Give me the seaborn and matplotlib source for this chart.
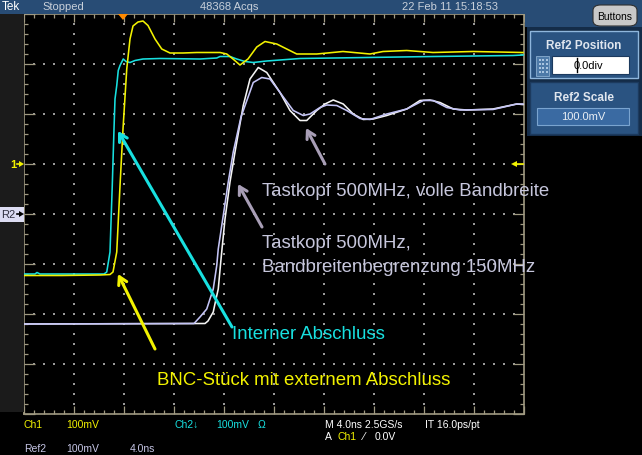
import numpy as np
import pandas as pd
import matplotlib
matplotlib.use("Agg")
import matplotlib.pyplot as plt
from matplotlib.patches import Rectangle, FancyBboxPatch, Polygon
from matplotlib.ticker import MultipleLocator
import seaborn as sns

# ---------------- data (time in ns, screen voltage in mV, 100 mV/div) -------------
t_ch1 = [-8.0, -5.0, -1.92, -1.12, -0.88, -0.58, -0.32, -0.08, 0.22, 0.48, 0.72, 1.12,
         1.52, 1.92, 2.48, 3.02, 3.68, 4.72, 5.82, 7.68, 8.22, 8.72, 9.28, 9.92, 10.62,
         11.28, 12.22, 13.02, 13.82, 15.42, 17.52, 19.68, 20.72, 22.62, 24.72, 27.92, 31.92]
v_ch1 = [-123, -123, -122, -121, -116, -76, 56, 170, 290, 350, 376, 384,
         386, 377, 350, 330, 322, 322, 323, 323, 320, 310, 298, 310, 334,
         345, 340, 330, 320, 320, 325, 320, 325, 327, 323, 325, 323]

t_ch2 = [-8.0, -7.12, -6.96, -6.72, -1.6, -1.38, -1.12, -0.94, -0.8, -0.72, -0.58, -0.46,
         -0.32, -0.06, 0.16, 0.48, 0.88, 1.52, 2.88, 6.08, 7.42, 7.68, 8.48, 9.02, 9.68,
         10.34, 11.42, 14.08, 19.42, 24.72, 31.12, 31.92]
v_ch2 = [-120, -120, -117, -120, -120, -116, -76, 56, 170, 230, 257, 287,
         297, 310, 305, 303, 307, 310, 311, 310, 312, 315, 315, 310, 305,
         303, 306, 311, 313, 315, 317, 318]

t_full = [-8.0, 6.48, 6.72, 7.14, 7.36, 7.54, 7.74, 7.84, 8.08, 8.48, 8.88, 9.54, 10.08,
          10.74, 11.42, 12.48, 13.28, 14.08, 14.62, 15.42, 16.08, 16.74, 17.54, 18.34,
          19.14, 19.94, 21.02, 22.62, 23.68, 24.48, 25.28, 26.34, 27.42, 29.52, 31.42, 31.92]
v_full = [-220, -219, -214, -196, -170, -150, -96, -70, -10, 64, 124, 217, 270,
          293, 283, 243, 207, 187, 187, 207, 220, 228, 220, 200,
          189, 190, 197, 210, 227, 228, 223, 210, 208, 210, 220, 219]

t_bw150 = [-8.0, 5.6, 6.08, 6.62, 7.14, 7.42, 7.54, 7.9, 8.34, 8.74, 9.36, 10.34, 11.02,
           11.68, 12.48, 13.54, 14.34, 14.88, 15.68, 16.22, 17.02, 17.82, 18.88, 19.68,
           21.02, 22.62, 23.94, 24.74, 25.82, 26.88, 29.52, 31.42, 31.92]
v_bw150 = [-220, -219, -206, -190, -150, -103, -70, -10, 64, 124, 194, 263, 273,
           270, 243, 207, 197, 200, 213, 218, 217, 207, 191, 189,
           200, 210, 227, 227, 213, 208, 209, 220, 220]

# ---------------- figure -------------------------------------------------------------
W, H = 642, 456
fig = plt.figure(figsize=(W / 100, H / 100), dpi=100, facecolor="black")


def P(x, y):
    return (x / W, 1 - y / H)


def rect(x0, y0, x1, y1, **kw):
    r = Rectangle(P(x0, y1), (x1 - x0) / W, (y1 - y0) / H, transform=fig.transFigure, **kw)
    fig.patches.append(r)
    return r


def ftext(x, y, s, **kw):
    kw.setdefault("va", "center")
    kw.setdefault("ha", "left")
    return fig.text(*P(x, y), s, **kw)


def poly(pts, **kw):
    p = Polygon([P(*q) for q in pts], closed=True, transform=fig.transFigure, **kw)
    fig.patches.append(p)


BLUE = "#284c75"
TAN = "#a09a82"

# backgrounds
rect(0, 0, W, 15, facecolor=BLUE, edgecolor="none")
rect(525, 0, W, 28, facecolor=BLUE, edgecolor="none")
rect(0, 15, 24, 413, facecolor="#1b1b1b", edgecolor="none")

# ---------------- graticule axis -----------------------------------------------------
ax = fig.add_axes([24 / W, 1 - 415 / H, 500 / W, 400 / H])
ax.set_facecolor("black")
ax.set_xlim(-8, 32)
ax.set_ylim(-400, 400)
for s in ax.spines.values():
    s.set_color(TAN)
    s.set_linewidth(1.2)
ax.xaxis.set_major_locator(MultipleLocator(4))
ax.xaxis.set_minor_locator(MultipleLocator(0.8))
ax.yaxis.set_major_locator(MultipleLocator(100))
ax.yaxis.set_minor_locator(MultipleLocator(20))
ax.tick_params(which="both", direction="in", top=True, right=True, bottom=True, left=True,
               labelbottom=False, labelleft=False, color=TAN, width=0.9)
ax.tick_params(axis="x", which="major", length=5.8)
ax.tick_params(axis="y", which="major", length=8.0)
ax.tick_params(which="minor", length=2.6)

# dotted grid
gx = np.arange(-4, 29, 4)
gy = np.arange(-300, 301, 100)
dx = np.arange(-8 + 0.8, 32 - 0.4, 0.8)
dy = np.arange(-380, 381, 20)
px_, py_ = [], []
for yv in gy:
    px_ += list(dx)
    py_ += [yv] * len(dx)
for xv in gx:
    px_ += [xv] * len(dy)
    py_ += list(dy)
ax.scatter(px_, py_, s=0.7, marker="s", color="#9a9a9a", linewidths=0, zorder=1)

# traces
df = pd.concat([
    pd.DataFrame({"t": t_full, "v": v_full, "trace": "full"}),
    pd.DataFrame({"t": t_bw150, "v": v_bw150, "trace": "bw150"}),
    pd.DataFrame({"t": t_ch2, "v": v_ch2, "trace": "ch2"}),
    pd.DataFrame({"t": t_ch1, "v": v_ch1, "trace": "ch1"}),
], ignore_index=True)
pal = {"full": "#f4f4f4", "bw150": "#c4c4f6", "ch2": "#18e0e0", "ch1": "#f2f200"}
for name in ["full", "bw150", "ch2", "ch1"]:
    sns.lineplot(data=df[df.trace == name], x="t", y="v", color=pal[name], sort=False,
                 estimator=None, legend=False, lw=1.15, ax=ax, zorder=3)
ax.set_xlabel("")
ax.set_ylabel("")


def px2d(x, y):
    return ((x - 124) * 0.08, (215 - y) * 2)


def arrow(tail, head, color, lw):
    ax.annotate("", xy=px2d(*head), xytext=px2d(*tail), annotation_clip=False,
                arrowprops=dict(arrowstyle="->,head_length=0.55,head_width=0.32",
                                color=color, lw=lw, shrinkA=0, shrinkB=0), zorder=5)


arrow((232, 328), (118, 132), "#18e0e0", 2.2)
arrow((155, 350), (118, 275), "#f2f200", 2.2)
arrow((262, 228), (238, 185), "#a89eb6", 2.2)
arrow((325, 165), (306, 129), "#a89eb6", 2.2)

# annotation texts
AF = "Liberation Sans"
AS = 13.4
ftext(232, 335, "Interner Abschluss", color="#18e0e0", fontsize=AS, family=AF)
ftext(157, 381, "BNC-Stück mit externem Abschluss", color="#f2f200", fontsize=AS, family=AF)
ftext(262, 191, "Tastkopf 500MHz, volle Bandbreite", color="#c6c6dc", fontsize=AS, family=AF)
ftext(262, 243, "Tastkopf 500MHz,", color="#c6c6dc", fontsize=AS, family=AF)
ftext(262, 268, "Bandbreitenbegrenzung 150MHz", color="#c6c6dc", fontsize=AS, family=AF)

# ---------------- status bar text ---------------------------------------------------
SF = "Liberation Sans"
ftext(2, 7.5, "Tek", color="white", fontsize=8.5, family=SF)
ftext(42, 7.5, "Stopped", color="#c8d0da", fontsize=8, family=SF)
ftext(200, 7.5, "48368 Acqs", color="#c8d0da", fontsize=8, family=SF)
ftext(402, 7.5, "22 Feb 11 15:18:53", color="#c8d0da", fontsize=8, family=SF)

bt = FancyBboxPatch(P(593, 27), 44 / W, 21 / H, boxstyle="round,pad=0,rounding_size=0.012",
                    transform=fig.transFigure, facecolor="#c8c8c8", edgecolor="#303030", lw=0.8)
fig.patches.append(bt)
ftext(615, 16.5, "Buttons", color="black", fontsize=7.5, family=SF, ha="center")

# trigger marker
poly([(118, 15), (128, 15), (123, 21)], facecolor="#ff8a00", edgecolor="none")

# ---------------- right panel --------------------------------------------------------
rect(527, 28, W, 137, facecolor="#142c48", edgecolor="none")
rect(530, 32, 638, 79, facecolor="#2a5381", edgecolor="#8fb6dc", lw=1)
rect(530, 83, 638, 135, facecolor="#2a5381", edgecolor="#1c3a5e", lw=1)
ftext(584, 46, "Ref2 Position", color="#e0e6ee", fontsize=8.5, family=SF,
      weight="bold", ha="center")
rect(536, 57, 549, 77, facecolor="#4d7aa8", edgecolor="#8aaed0", lw=0.6)
for ix in range(3):
    for iy in range(4):
        rect(538.5 + ix * 3.5, 60 + iy * 4, 540.5 + ix * 3.5, 62 + iy * 4,
             facecolor="#a8c4e0", edgecolor="none")
rect(552, 57, 629, 75, facecolor="white", edgecolor="#1c3a5e", lw=0.8)
ftext(588, 66, "0.0div", color="black", fontsize=8, family=SF, ha="center")
fig.lines.append(plt.Line2D([577 / W, 577 / W], [1 - 59 / H, 1 - 73 / H],
                            transform=fig.transFigure, color="black", lw=1))
ftext(584, 98, "Ref2 Scale", color="#e0e6ee", fontsize=8.5, family=SF,
      weight="bold", ha="center")
rect(537, 109, 629, 126, facecolor="#3a6aa2", edgecolor="#7aa4d0", lw=0.8)
ftext(583, 117.5, "100.0mV", color="#e8eef4", fontsize=8, family=SF, ha="center")

# ---------------- left markers -------------------------------------------------------
ftext(10, 165, "1", color="#f2f200", fontsize=8, family=SF, weight="bold")
fig.lines.append(plt.Line2D([17 / W, 21 / W], [1 - 165 / H] * 2, transform=fig.transFigure,
                            color="#f2f200", lw=1.2))
poly([(19, 162), (24, 165), (19, 168)], facecolor="#f2f200", edgecolor="none")
rect(0, 208, 24, 223, facecolor="#dcdcf2", edgecolor="none")
ftext(1, 215.5, "R2", color="#303040", fontsize=8, family=SF)
fig.lines.append(plt.Line2D([17 / W, 21 / W], [1 - 215 / H] * 2, transform=fig.transFigure,
                            color="black", lw=1.2))
poly([(19, 212), (24, 215), (19, 218)], facecolor="black", edgecolor="none")
# right trigger-level marker
fig.lines.append(plt.Line2D([515 / W, 523 / W], [1 - 165 / H] * 2, transform=fig.transFigure,
                            color="#f2f200", lw=1.2))
poly([(517, 162), (511, 165), (517, 168)], facecolor="#f2f200", edgecolor="none")

# ---------------- bottom readouts ----------------------------------------------------
BF = "Liberation Sans"
fs = 7.5
ftext(24, 425, "Ch1", color="#f2f200", fontsize=fs, family=BF)
ftext(66, 425, "100mV", color="#f2f200", fontsize=fs, family=BF)
ftext(175, 425, "Ch2\u2193", color="#18e0e0", fontsize=fs, family=BF)
ftext(216, 425, "100mV", color="#18e0e0", fontsize=fs, family=BF)
ftext(258, 425, "\u03a9", color="#18e0e0", fontsize=fs, family=BF)
ftext(24, 449, "Ref2", color="#c6c6e6", fontsize=fs, family=BF)
ftext(66, 449, "100mV", color="#c6c6e6", fontsize=fs, family=BF)
ftext(130, 449, "4.0ns", color="#c6c6e6", fontsize=fs, family=BF)
ftext(325, 425, "M 4.0ns 2.5GS/s", color="white", fontsize=fs, family=BF)
ftext(425, 425, "IT 16.0ps/pt", color="white", fontsize=fs, family=BF)
ftext(325, 437, "A", color="white", fontsize=fs, family=BF)
ftext(337, 437, "Ch1", color="#f2f200", fontsize=fs, family=BF)
ftext(363, 437, "\u2044", color="white", fontsize=fs, family="DejaVu Sans")
ftext(375, 437, "0.0V", color="white", fontsize=fs, family=BF)

fig.savefig("out.png", dpi=100, facecolor="black")
